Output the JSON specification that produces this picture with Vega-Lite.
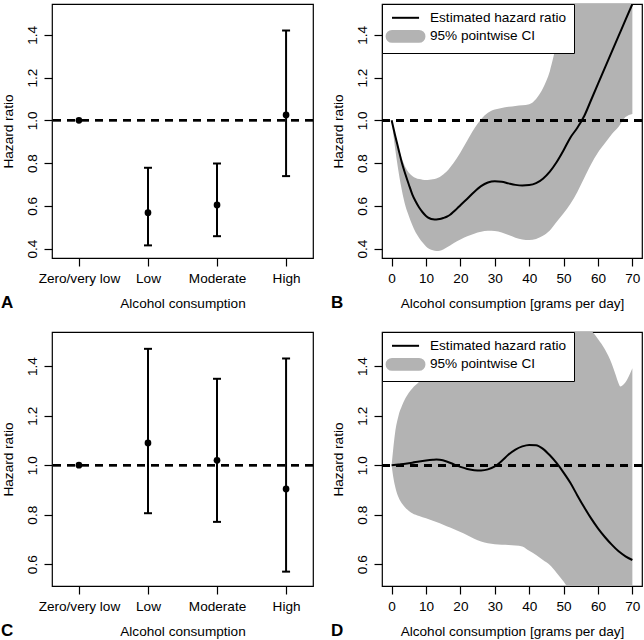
{
  "$schema": "https://vega.github.io/schema/vega-lite/v6.json",
  "padding": {"left": 0, "top": 2, "right": 0, "bottom": 0},
  "background": "white",
  "columns": 2,
  "bounds": "flush",
  "spacing": {"row": 74, "column": 69},
  "resolve": {"scale": {"color": "independent"}, "legend": {"color": "independent"}},
  "config": {
    "font": "Liberation Sans",
    "view": {"stroke": "black", "strokeWidth": 1.2},
    "axis": {
      "grid": false, "domain": false, "tickColor": "black", "tickSize": 8, "tickWidth": 1.2,
      "labelColor": "black", "labelFontSize": 13.6, "labelFont": "Liberation Sans",
      "titleColor": "black", "titleFontSize": 13.6, "titleFont": "Liberation Sans", "titleFontWeight": "normal"
    },
    "axisY": {"labelAngle": 270, "labelAlign": "center", "labelBaseline": "alphabetic", "labelPadding": 8, "titlePadding": 10},
    "axisX": {"labelAngle": 0, "labelPadding": 5, "titlePadding": 12},
    "title": {"orient": "bottom", "anchor": "start", "frame": "bounds", "fontSize": 17, "fontWeight": "bold", "font": "Liberation Sans", "color": "black", "baseline": "alphabetic", "offset": -15},
    "legend": {
      "orient": "top-left", "offset": 0, "padding": 7, "strokeColor": "black", "fillColor": "white",
      "labelFontSize": 13.6, "labelFont": "Liberation Sans", "labelColor": "black", "labelOffset": 27.4,
      "labelLimit": 400, "rowPadding": 1.6, "symbolSize": 117, "symbolStrokeWidth": 2, "cornerRadius": 0, "symbolOpacity": 1
    }
  },
  "datasets": {
    "catA": [
      {"cat": "Zero/very low", "hr": 1.0},
      {"cat": "Low", "hr": 0.568, "lo": 0.415, "hi": 0.778},
      {"cat": "Moderate", "hr": 0.604, "lo": 0.458, "hi": 0.798},
      {"cat": "High", "hr": 1.025, "lo": 0.739, "hi": 1.42}
    ],
    "catC": [
      {"cat": "Zero/very low", "hr": 1.0},
      {"cat": "Low", "hr": 1.09, "lo": 0.806, "hi": 1.47},
      {"cat": "Moderate", "hr": 1.02, "lo": 0.771, "hi": 1.349},
      {"cat": "High", "hr": 0.904, "lo": 0.57, "hi": 1.431}
    ],
    "lineB": [
      {"x": 0, "hr": 1.0}, {"x": 1, "hr": 0.93}, {"x": 2, "hr": 0.865}, {"x": 3, "hr": 0.8},
      {"x": 4, "hr": 0.748}, {"x": 5, "hr": 0.7}, {"x": 6, "hr": 0.654}, {"x": 7, "hr": 0.62},
      {"x": 8, "hr": 0.592}, {"x": 9, "hr": 0.57}, {"x": 10, "hr": 0.553}, {"x": 11, "hr": 0.542},
      {"x": 12, "hr": 0.537}, {"x": 13, "hr": 0.536}, {"x": 14, "hr": 0.538}, {"x": 15, "hr": 0.543},
      {"x": 16, "hr": 0.549}, {"x": 17, "hr": 0.558}, {"x": 18, "hr": 0.572}, {"x": 19, "hr": 0.587},
      {"x": 20, "hr": 0.603}, {"x": 22, "hr": 0.633}, {"x": 24, "hr": 0.665}, {"x": 26, "hr": 0.692},
      {"x": 28, "hr": 0.709}, {"x": 30, "hr": 0.715}, {"x": 32, "hr": 0.713}, {"x": 34, "hr": 0.705},
      {"x": 36, "hr": 0.698}, {"x": 38, "hr": 0.695}, {"x": 40, "hr": 0.697}, {"x": 42, "hr": 0.706},
      {"x": 44, "hr": 0.727}, {"x": 46, "hr": 0.76}, {"x": 48, "hr": 0.805}, {"x": 50, "hr": 0.86},
      {"x": 52, "hr": 0.92}, {"x": 54, "hr": 0.965}, {"x": 56, "hr": 1.02}, {"x": 58, "hr": 1.095},
      {"x": 60, "hr": 1.17}, {"x": 62, "hr": 1.245}, {"x": 64, "hr": 1.32}, {"x": 66, "hr": 1.395},
      {"x": 68, "hr": 1.47}, {"x": 70, "hr": 1.544}
    ],
    "bandB": [
      {"x": 0, "lo": 1.0, "hi": 1.0}, {"x": 1, "lo": 0.87, "hi": 0.93}, {"x": 2, "lo": 0.76, "hi": 0.87},
      {"x": 3, "lo": 0.67, "hi": 0.82}, {"x": 4, "lo": 0.6, "hi": 0.78}, {"x": 5, "lo": 0.553, "hi": 0.755},
      {"x": 6, "lo": 0.51, "hi": 0.74}, {"x": 7, "lo": 0.475, "hi": 0.73}, {"x": 8, "lo": 0.45, "hi": 0.725},
      {"x": 9, "lo": 0.428, "hi": 0.722}, {"x": 10, "lo": 0.41, "hi": 0.721}, {"x": 11, "lo": 0.398, "hi": 0.722},
      {"x": 12, "lo": 0.392, "hi": 0.724}, {"x": 13, "lo": 0.389, "hi": 0.728}, {"x": 14, "lo": 0.39, "hi": 0.735},
      {"x": 16, "lo": 0.405, "hi": 0.76}, {"x": 18, "lo": 0.425, "hi": 0.8}, {"x": 20, "lo": 0.443, "hi": 0.85},
      {"x": 22, "lo": 0.458, "hi": 0.905}, {"x": 24, "lo": 0.47, "hi": 0.96}, {"x": 26, "lo": 0.479, "hi": 1.005},
      {"x": 28, "lo": 0.483, "hi": 1.035}, {"x": 30, "lo": 0.482, "hi": 1.05}, {"x": 32, "lo": 0.475, "hi": 1.058},
      {"x": 34, "lo": 0.463, "hi": 1.063}, {"x": 36, "lo": 0.451, "hi": 1.067}, {"x": 38, "lo": 0.443, "hi": 1.07},
      {"x": 40, "lo": 0.44, "hi": 1.075}, {"x": 42, "lo": 0.445, "hi": 1.1}, {"x": 44, "lo": 0.46, "hi": 1.15},
      {"x": 46, "lo": 0.485, "hi": 1.23}, {"x": 48, "lo": 0.525, "hi": 1.36}, {"x": 50, "lo": 0.565, "hi": 1.48},
      {"x": 52, "lo": 0.61, "hi": 1.6}, {"x": 54, "lo": 0.665, "hi": 1.75}, {"x": 56, "lo": 0.73, "hi": 1.9},
      {"x": 58, "lo": 0.795, "hi": 2.05}, {"x": 60, "lo": 0.85, "hi": 2.2}, {"x": 62, "lo": 0.893, "hi": 2.35},
      {"x": 64, "lo": 0.935, "hi": 2.5}, {"x": 66, "lo": 0.97, "hi": 2.6}, {"x": 68, "lo": 1.015, "hi": 2.7},
      {"x": 70, "lo": 1.03, "hi": 2.8}
    ],
    "lineD": [
      {"x": 0, "hr": 1.0}, {"x": 2, "hr": 1.003}, {"x": 4, "hr": 1.006}, {"x": 6, "hr": 1.01},
      {"x": 8, "hr": 1.015}, {"x": 10, "hr": 1.019}, {"x": 12, "hr": 1.022}, {"x": 13, "hr": 1.023},
      {"x": 14, "hr": 1.022}, {"x": 16, "hr": 1.015}, {"x": 18, "hr": 1.004}, {"x": 20, "hr": 0.993},
      {"x": 22, "hr": 0.985}, {"x": 24, "hr": 0.98}, {"x": 26, "hr": 0.979}, {"x": 28, "hr": 0.983},
      {"x": 30, "hr": 0.995}, {"x": 32, "hr": 1.017}, {"x": 34, "hr": 1.043}, {"x": 36, "hr": 1.063},
      {"x": 38, "hr": 1.076}, {"x": 40, "hr": 1.082}, {"x": 42, "hr": 1.081}, {"x": 44, "hr": 1.066},
      {"x": 46, "hr": 1.04}, {"x": 48, "hr": 1.008}, {"x": 50, "hr": 0.97}, {"x": 52, "hr": 0.928},
      {"x": 54, "hr": 0.878}, {"x": 56, "hr": 0.83}, {"x": 58, "hr": 0.785}, {"x": 60, "hr": 0.745},
      {"x": 62, "hr": 0.71}, {"x": 64, "hr": 0.679}, {"x": 66, "hr": 0.652}, {"x": 68, "hr": 0.632},
      {"x": 70, "hr": 0.617}
    ],
    "bandD": [
      {"x": 0, "lo": 1.0, "hi": 1.0}, {"x": 0.5, "lo": 0.95, "hi": 1.07}, {"x": 1, "lo": 0.915, "hi": 1.13},
      {"x": 2, "lo": 0.87, "hi": 1.2}, {"x": 3, "lo": 0.845, "hi": 1.24}, {"x": 4, "lo": 0.828, "hi": 1.27},
      {"x": 6, "lo": 0.806, "hi": 1.31}, {"x": 8, "lo": 0.795, "hi": 1.337}, {"x": 10, "lo": 0.786, "hi": 1.37},
      {"x": 12, "lo": 0.776, "hi": 1.4}, {"x": 14, "lo": 0.765, "hi": 1.44}, {"x": 16, "lo": 0.753, "hi": 1.48},
      {"x": 18, "lo": 0.742, "hi": 1.52}, {"x": 20, "lo": 0.73, "hi": 1.56}, {"x": 22, "lo": 0.717, "hi": 1.6},
      {"x": 24, "lo": 0.703, "hi": 1.64}, {"x": 26, "lo": 0.692, "hi": 1.68}, {"x": 28, "lo": 0.685, "hi": 1.72},
      {"x": 30, "lo": 0.681, "hi": 1.76}, {"x": 32, "lo": 0.679, "hi": 1.8}, {"x": 34, "lo": 0.678, "hi": 1.83},
      {"x": 36, "lo": 0.676, "hi": 1.85}, {"x": 38, "lo": 0.672, "hi": 1.86}, {"x": 40, "lo": 0.654, "hi": 1.86},
      {"x": 42, "lo": 0.637, "hi": 1.85}, {"x": 44, "lo": 0.617, "hi": 1.82}, {"x": 46, "lo": 0.597, "hi": 1.77},
      {"x": 48, "lo": 0.565, "hi": 1.71}, {"x": 50, "lo": 0.53, "hi": 1.66}, {"x": 52, "lo": 0.49, "hi": 1.63},
      {"x": 54, "lo": 0.46, "hi": 1.6}, {"x": 56, "lo": 0.43, "hi": 1.575}, {"x": 58, "lo": 0.41, "hi": 1.545},
      {"x": 60, "lo": 0.39, "hi": 1.51}, {"x": 62, "lo": 0.375, "hi": 1.468}, {"x": 64, "lo": 0.36, "hi": 1.41},
      {"x": 65, "lo": 0.355, "hi": 1.37}, {"x": 66, "lo": 0.35, "hi": 1.33}, {"x": 66.5, "lo": 0.348, "hi": 1.318},
      {"x": 67, "lo": 0.346, "hi": 1.321}, {"x": 68, "lo": 0.343, "hi": 1.335}, {"x": 69, "lo": 0.34, "hi": 1.36},
      {"x": 70, "lo": 0.338, "hi": 1.392}
    ]
  },
  "concat": [
    {
      "width": 261, "height": 254,
      "title": {"text": "A"},
      "data": {"name": "catA"},
      "encoding": {
        "x": {"field": "cat", "type": "nominal", "sort": ["Zero/very low", "Low", "Moderate", "High"],
              "scale": {"type": "point", "padding": 0.39}, "axis": {"title": "Alcohol consumption"}}
      },
      "layer": [
        {"mark": {"type": "rule", "strokeDash": [8, 6], "strokeWidth": 2, "color": "black"},
         "encoding": {"x": null, "y": {"datum": 1, "type": "quantitative", "scale": {"domain": [0.356, 1.544], "nice": false, "zero": false},
                      "axis": {"title": "Hazard ratio", "values": [0.4, 0.6, 0.8, 1.0, 1.2, 1.4], "format": ".1f"}}}},
        {"transform": [{"filter": "isValid(datum.lo)"}],
         "mark": {"type": "rule", "strokeWidth": 2, "color": "black"},
         "encoding": {"y": {"field": "lo", "type": "quantitative", "scale": {"domain": [0.356, 1.544], "nice": false, "zero": false},
                            "axis": {"title": "Hazard ratio", "values": [0.4, 0.6, 0.8, 1.0, 1.2, 1.4], "format": ".1f"}},
                      "y2": {"field": "hi"}}},
        {"transform": [{"filter": "isValid(datum.lo)"}],
         "mark": {"type": "tick", "thickness": 2, "size": 8, "color": "black", "opacity": 1, "orient": "horizontal"},
         "encoding": {"y": {"field": "lo", "type": "quantitative", "scale": {"domain": [0.356, 1.544], "nice": false, "zero": false},
                            "axis": {"title": "Hazard ratio", "values": [0.4, 0.6, 0.8, 1.0, 1.2, 1.4], "format": ".1f"}}}},
        {"transform": [{"filter": "isValid(datum.hi)"}],
         "mark": {"type": "tick", "thickness": 2, "size": 8, "color": "black", "opacity": 1, "orient": "horizontal"},
         "encoding": {"y": {"field": "hi", "type": "quantitative", "scale": {"domain": [0.356, 1.544], "nice": false, "zero": false},
                            "axis": {"title": "Hazard ratio", "values": [0.4, 0.6, 0.8, 1.0, 1.2, 1.4], "format": ".1f"}}}},
        {"mark": {"type": "circle", "size": 45, "color": "black", "opacity": 1},
         "encoding": {"y": {"field": "hr", "type": "quantitative", "scale": {"domain": [0.356, 1.544], "nice": false, "zero": false},
                            "axis": {"title": "Hazard ratio", "values": [0.4, 0.6, 0.8, 1.0, 1.2, 1.4], "format": ".1f"}}}}
      ]
    },
    {
      "width": 260, "height": 254,
      "title": {"text": "B"},
      "encoding": {
        "x": {"field": "x", "type": "quantitative", "scale": {"domain": [-2.8, 72.8], "nice": false, "zero": false},
              "axis": {"title": "Alcohol consumption [grams per day]", "values": [0, 10, 20, 30, 40, 50, 60, 70]}}
      },
      "layer": [
        {"data": {"name": "bandB"},
         "mark": {"type": "area", "interpolate": "monotone", "clip": true, "opacity": 1, "color": "#b3b3b3"},
         "encoding": {
           "y": {"field": "lo", "type": "quantitative", "scale": {"domain": [0.356, 1.544], "nice": false, "zero": false},
                 "axis": {"title": "Hazard ratio", "values": [0.4, 0.6, 0.8, 1.0, 1.2, 1.4], "format": ".1f"}},
           "y2": {"field": "hi"}
         }},
        {"data": {"name": "bandB"},
         "mark": {"type": "rule", "strokeDash": [8, 6], "strokeWidth": 2, "color": "black"},
         "encoding": {"x": null, "y": {"datum": 1, "type": "quantitative", "scale": {"domain": [0.356, 1.544], "nice": false, "zero": false},
                                       "axis": {"title": "Hazard ratio", "values": [0.4, 0.6, 0.8, 1.0, 1.2, 1.4], "format": ".1f"}}}},
        {"data": {"name": "lineB"},
         "mark": {"type": "line", "interpolate": "monotone", "clip": true, "strokeWidth": 2},
         "encoding": {
           "y": {"field": "hr", "type": "quantitative", "scale": {"domain": [0.356, 1.544], "nice": false, "zero": false},
                 "axis": {"title": "Hazard ratio", "values": [0.4, 0.6, 0.8, 1.0, 1.2, 1.4], "format": ".1f"}},
           "color": {"datum": "Estimated hazard ratio", "type": "nominal",
                     "scale": {"domain": ["Estimated hazard ratio", "95% pointwise CI"], "range": ["black", "#b3b3b3"]},
                     "legend": {"title": null,
                       "symbolType": {"expr": "datum.value === '95% pointwise CI' ? 'M-0.7,-1H4.3A1,1,0,0,1,4.3,1H-0.7A1,1,0,0,1,-0.7,-1Z' : 'M-0.7,0H4.3'"},
                       "symbolFillColor": {"expr": "datum.value === '95% pointwise CI' ? '#b3b3b3' : 'transparent'"}}}
         }}
      ]
    },
    {
      "width": 261, "height": 254,
      "title": {"text": "C"},
      "data": {"name": "catC"},
      "encoding": {
        "x": {"field": "cat", "type": "nominal", "sort": ["Zero/very low", "Low", "Moderate", "High"],
              "scale": {"type": "point", "padding": 0.39}, "axis": {"title": "Alcohol consumption"}}
      },
      "layer": [
        {"mark": {"type": "rule", "strokeDash": [8, 6], "strokeWidth": 2, "color": "black"},
         "encoding": {"x": null, "y": {"datum": 1, "type": "quantitative", "scale": {"domain": [0.512, 1.538], "nice": false, "zero": false},
                      "axis": {"title": "Hazard ratio", "values": [0.6, 0.8, 1.0, 1.2, 1.4], "format": ".1f"}}}},
        {"transform": [{"filter": "isValid(datum.lo)"}],
         "mark": {"type": "rule", "strokeWidth": 2, "color": "black"},
         "encoding": {"y": {"field": "lo", "type": "quantitative", "scale": {"domain": [0.512, 1.538], "nice": false, "zero": false},
                            "axis": {"title": "Hazard ratio", "values": [0.6, 0.8, 1.0, 1.2, 1.4], "format": ".1f"}},
                      "y2": {"field": "hi"}}},
        {"transform": [{"filter": "isValid(datum.lo)"}],
         "mark": {"type": "tick", "thickness": 2, "size": 8, "color": "black", "opacity": 1, "orient": "horizontal"},
         "encoding": {"y": {"field": "lo", "type": "quantitative", "scale": {"domain": [0.512, 1.538], "nice": false, "zero": false},
                            "axis": {"title": "Hazard ratio", "values": [0.6, 0.8, 1.0, 1.2, 1.4], "format": ".1f"}}}},
        {"transform": [{"filter": "isValid(datum.hi)"}],
         "mark": {"type": "tick", "thickness": 2, "size": 8, "color": "black", "opacity": 1, "orient": "horizontal"},
         "encoding": {"y": {"field": "hi", "type": "quantitative", "scale": {"domain": [0.512, 1.538], "nice": false, "zero": false},
                            "axis": {"title": "Hazard ratio", "values": [0.6, 0.8, 1.0, 1.2, 1.4], "format": ".1f"}}}},
        {"mark": {"type": "circle", "size": 45, "color": "black", "opacity": 1},
         "encoding": {"y": {"field": "hr", "type": "quantitative", "scale": {"domain": [0.512, 1.538], "nice": false, "zero": false},
                            "axis": {"title": "Hazard ratio", "values": [0.6, 0.8, 1.0, 1.2, 1.4], "format": ".1f"}}}}
      ]
    },
    {
      "width": 260, "height": 254,
      "title": {"text": "D"},
      "encoding": {
        "x": {"field": "x", "type": "quantitative", "scale": {"domain": [-2.8, 72.8], "nice": false, "zero": false},
              "axis": {"title": "Alcohol consumption [grams per day]", "values": [0, 10, 20, 30, 40, 50, 60, 70]}}
      },
      "layer": [
        {"data": {"name": "bandD"},
         "mark": {"type": "area", "interpolate": "monotone", "clip": true, "opacity": 1, "color": "#b3b3b3"},
         "encoding": {
           "y": {"field": "lo", "type": "quantitative", "scale": {"domain": [0.512, 1.538], "nice": false, "zero": false},
                 "axis": {"title": "Hazard ratio", "values": [0.6, 0.8, 1.0, 1.2, 1.4], "format": ".1f"}},
           "y2": {"field": "hi"}
         }},
        {"data": {"name": "bandD"},
         "mark": {"type": "rule", "strokeDash": [8, 6], "strokeWidth": 2, "color": "black"},
         "encoding": {"x": null, "y": {"datum": 1, "type": "quantitative", "scale": {"domain": [0.512, 1.538], "nice": false, "zero": false},
                                       "axis": {"title": "Hazard ratio", "values": [0.6, 0.8, 1.0, 1.2, 1.4], "format": ".1f"}}}},
        {"data": {"name": "lineD"},
         "mark": {"type": "line", "interpolate": "monotone", "clip": true, "strokeWidth": 2},
         "encoding": {
           "y": {"field": "hr", "type": "quantitative", "scale": {"domain": [0.512, 1.538], "nice": false, "zero": false},
                 "axis": {"title": "Hazard ratio", "values": [0.6, 0.8, 1.0, 1.2, 1.4], "format": ".1f"}},
           "color": {"datum": "Estimated hazard ratio", "type": "nominal",
                     "scale": {"domain": ["Estimated hazard ratio", "95% pointwise CI"], "range": ["black", "#b3b3b3"]},
                     "legend": {"title": null,
                       "symbolType": {"expr": "datum.value === '95% pointwise CI' ? 'M-0.7,-1H4.3A1,1,0,0,1,4.3,1H-0.7A1,1,0,0,1,-0.7,-1Z' : 'M-0.7,0H4.3'"},
                       "symbolFillColor": {"expr": "datum.value === '95% pointwise CI' ? '#b3b3b3' : 'transparent'"}}}
         }}
      ]
    }
  ]
}
